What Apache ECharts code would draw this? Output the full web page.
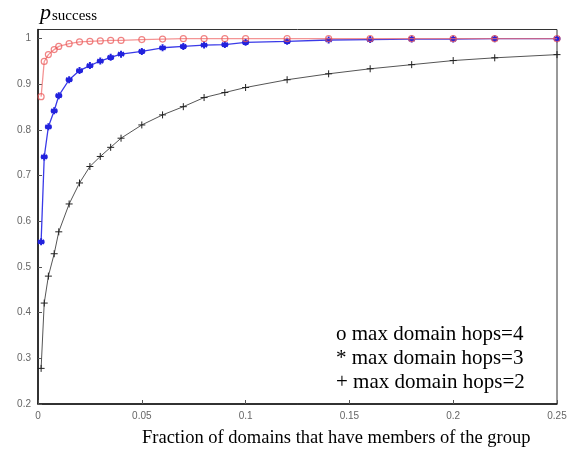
<!DOCTYPE html>
<html><head><meta charset="utf-8">
<script src="https://cdn.jsdelivr.net/npm/echarts@6/dist/echarts.min.js"></script>
<style>html,body{margin:0;padding:0;background:#fff}#c{width:570px;height:461px}</style>
</head><body><div id="c"></div>
<script>
var xs = [0.0015, 0.003, 0.005, 0.0078, 0.01, 0.015, 0.02, 0.025, 0.03, 0.035, 0.04, 0.05, 0.06, 0.07, 0.08, 0.09, 0.1, 0.12, 0.14, 0.16, 0.18, 0.2, 0.22, 0.25];
var hops2 = [0.278, 0.421, 0.480, 0.529, 0.577, 0.638, 0.684, 0.720, 0.742, 0.762, 0.782, 0.811, 0.833, 0.851, 0.871, 0.882, 0.893, 0.910, 0.923, 0.934, 0.943, 0.952, 0.958, 0.965];
var hops3 = [0.555, 0.741, 0.807, 0.842, 0.875, 0.910, 0.930, 0.941, 0.951, 0.959, 0.966, 0.972, 0.980, 0.983, 0.986, 0.987, 0.992, 0.994, 0.997, 0.998, 0.999, 0.999, 1.0, 1.0];
var hops4 = [0.873, 0.950, 0.965, 0.976, 0.983, 0.989, 0.993, 0.994, 0.995, 0.996, 0.996, 0.998, 0.999, 1.0, 1.0, 1.0, 1.0, 1.0, 1.0, 1.0, 1.0, 1.0, 1.0, 1.0];
var xTicks = [0, 0.05, 0.1, 0.15, 0.2, 0.25];
var yTicks = [0.2, 0.3, 0.4, 0.5, 0.6, 0.7, 0.8, 0.9, 1];
var legendLines = ['o max domain hops=4', '* max domain hops=3', '+ max domain hops=2'];
var xTitle = 'Fraction of domains that have members of the group';

function pairs(ys){ return xs.map(function(x,i){ return [x, ys[i]]; }); }
var serif = '"Liberation Serif", "DejaVu Serif", serif';
var chart = echarts.init(document.getElementById('c'), null, {renderer:'canvas'});
var lblStyle = {color:'#666', fontSize:10, fontFamily:'"Liberation Sans", Arial, sans-serif'};
chart.setOption({
  animation:false,
  grid:{left:38, right:13, top:29.5, bottom:57, show:true, borderColor:'#333', borderWidth:1, backgroundColor:'transparent'},
  xAxis:{type:'value', min:0, max:0.25, interval:0.05,
    axisLine:{show:true, onZero:false, lineStyle:{color:'#111', width:1.5}},
    axisTick:{show:true, inside:true, length:4, lineStyle:{color:'#555'}},
    axisLabel:Object.assign({margin:7, formatter:function(v){
      for (var i=0;i<xTicks.length;i++) if (Math.abs(v-xTicks[i])<1e-9) return String(xTicks[i]);
      return ''; }}, lblStyle),
    splitLine:{show:false}},
  yAxis:{type:'value', min:0.2, max:1.02, interval:0.1,
    axisLine:{show:true, onZero:false, lineStyle:{color:'#111', width:1.5}},
    axisTick:{show:true, inside:true, length:4, lineStyle:{color:'#555'}},
    axisLabel:Object.assign({margin:7, showMaxLabel:false, formatter:function(v){
      for (var i=0;i<yTicks.length;i++) if (Math.abs(v-yTicks[i])<1e-9) return String(yTicks[i]);
      return ''; }}, lblStyle),
    splitLine:{show:false}},
  series:[
    {type:'line', data:pairs(hops2), symbol:'path://M0,-10L0,10M-10,0L10,0', symbolSize:7,
     lineStyle:{color:'#555', width:1}, itemStyle:{color:'#222', borderColor:'#222', borderWidth:1}, emphasis:{disabled:true}, z:2},
    {type:'line', data:pairs(hops3), symbol:'path://M0,-10L0,10M-8.66,-5L8.66,5M-8.66,5L8.66,-5M-10,0L10,0', symbolSize:7,
     lineStyle:{color:'#3a3ae8', width:1.3}, itemStyle:{color:'#2222dd', borderColor:'#2222dd', borderWidth:2}, emphasis:{disabled:true}, z:3},
    {type:'line', data:pairs(hops4), symbol:'circle', symbolSize:6,
     lineStyle:{color:'#f07070', width:1.3, opacity:0.75}, itemStyle:{color:'rgba(255,255,255,0)', borderColor:'rgba(235,90,90,0.75)', borderWidth:1.2}, emphasis:{disabled:true}, z:4}
  ],
  graphic:[
    {type:'text', left:40, top:2, style:{text:'p', font:'italic 22px '+serif, fill:'#000'}},
    {type:'text', left:52, top:9, style:{text:'success', font:'15px '+serif, fill:'#000'}},
    {type:'text', left:336, top:324, style:{text:legendLines[0], font:'21px '+serif, fill:'#000'}},
    {type:'text', left:336, top:348, style:{text:legendLines[1], font:'21px '+serif, fill:'#000'}},
    {type:'text', left:336, top:372, style:{text:legendLines[2], font:'21px '+serif, fill:'#000'}},
    {type:'text', left:142, top:429, style:{text:xTitle, font:'18.5px '+serif, fill:'#000'}}
  ]
});
</script></body></html>
